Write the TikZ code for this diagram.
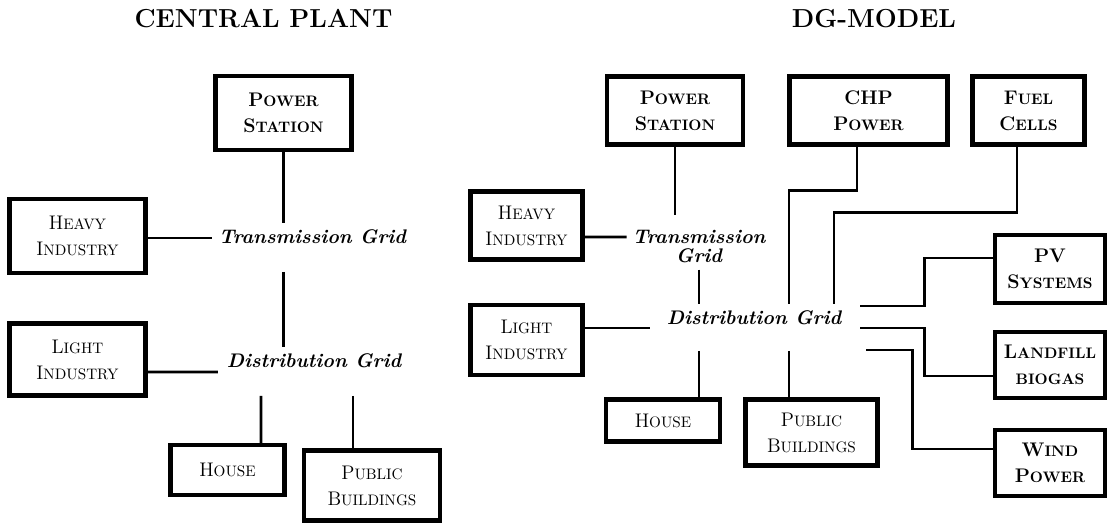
\documentclass[tikz,border=0pt]{standalone}
\usepackage{fontspec}
\usepackage{tikz}
\usetikzlibrary{calc}

\newcommand{\boxfont}{\fontsize{14}{18.5}\selectfont}
\newcommand{\gridfont}{\fontsize{14}{13.5}\selectfont\bfseries\itshape}
\newcommand{\lc}[1]{{\fontsize{10.8}{12}\selectfont\addfontfeature{LetterSpace=10}\MakeUppercase{#1}}}

\begin{document}
\begin{tikzpicture}[x=0.025cm, y=-0.025cm,
    consumer/.style={draw, line width=3.2pt, align=center, inner sep=1pt, font=\boxfont},
    source/.style={consumer, font=\boxfont\bfseries},
    gridlabel/.style={inner sep=4.7pt, align=center, font=\gridfont},
    heading/.style={font=\fontsize{18.5}{22}\selectfont\bfseries},
    wire/.style={line width=2.1pt}]

    \useasboundingbox (0,0) rectangle (1113,527);

    % central plant
    \node[heading] (ttl1) at (263.5,19) {CENTRAL PLANT};
    \node[source, minimum width=3.41cm, minimum height=1.84cm] (ps1) at (283.5,113) {P\lc{ower}\\S\lc{tation}};
    \node[consumer, minimum width=3.41cm, minimum height=1.84cm] (hi1) at (77.5,236) {H\lc{eavy}\\I\lc{ndustry}};
    \node[gridlabel] (tg1) at (312.5,237) {Transmission Grid};
    \node[consumer, minimum width=3.41cm, minimum height=1.81cm] (li1) at (77.5,359.5) {L\lc{ight}\\I\lc{ndustry}};
    \node[gridlabel] (dg1) at (314,361) {Distribution Grid};
    \node[consumer, minimum width=2.86cm, minimum height=1.24cm] (ho1) at (227.5,470) {H\lc{ouse}};
    \node[consumer, minimum width=3.39cm, minimum height=1.76cm] (pb1) at (372,485.5) {P\lc{ublic}\\B\lc{uildings}};

    \draw[wire] (ps1) -- (ps1 |- tg1.north);
    \draw[wire] ($(hi1.east)+(0,2)$) -- ($(tg1.west)+(0,1)$);
    \draw[wire, shorten <=0.52cm] (ps1 |- tg1.south) -- (ps1 |- dg1.north);
    \draw[wire] ($(li1.east)+(0,12.5)$) -- ($(dg1.west)+(-2,11)$);
    \draw[wire, shorten <=0.52cm] ($(dg1.south)+(-53,0)$) -- ($(ho1.north)+(33.5,0)$);
    \draw[wire, shorten <=0.52cm] ($(dg1.south)+(39,0)$) -- ($(pb1.north)+(-19,0)$);

    % distributed generation
    \node[heading] (ttl2) at (874,19) {DG-MODEL};
    \node[source, minimum width=3.39cm, minimum height=1.71cm] (ps2) at (675,110.5) {P\lc{ower}\\S\lc{tation}};
    \node[source, minimum width=3.96cm, minimum height=1.71cm] (chp) at (868.5,110.5) {CHP\\P\lc{ower}};
    \node[source, minimum width=2.81cm, minimum height=1.71cm] (fc) at (1028.5,110.5) {F\lc{uel}\\C\lc{ells}};
    \node[consumer, minimum width=2.81cm, minimum height=1.69cm] (hi2) at (526.5,225.5) {H\lc{eavy}\\I\lc{ndustry}};
    \node[gridlabel] (tg2) at (699,246.5) {Transmission\\Grid};
    \node[gridlabel] (dg2) at (754,318) {Distribution Grid};
    \node[consumer, minimum width=2.81cm, minimum height=1.74cm] (li2) at (526.5,340) {L\lc{ight}\\I\lc{ndustry}};
    \node[consumer, minimum width=2.84cm, minimum height=1.06cm] (ho2) at (663,420.5) {H\lc{ouse}};
    \node[consumer, minimum width=3.31cm, minimum height=1.66cm] (pb2) at (811.5,432.5) {P\lc{ublic}\\B\lc{uildings}};
    \node[source, minimum width=2.74cm, minimum height=1.69cm] (pv) at (1050,269) {PV\\S\lc{ystems}};
    \node[source, minimum width=2.74cm, minimum height=1.64cm] (lf) at (1050,365) {L\lc{andfill}\\\lc{biogas}};
    \node[source, minimum width=2.76cm, minimum height=1.64cm] (wp) at (1050,463) {W\lc{ind}\\P\lc{ower}};

    \coordinate (chpbus) at ($(dg2.north)+(35,0)$);
    \coordinate (fcbus) at ($(dg2.north)+(80,0)$);

    \draw[wire, shorten >=0.22cm] (ps2) -- (ps2 |- tg2.north);
    \draw[wire] ($(hi2.east)+(0,11.5)$) -- ($(tg2.west)+(1,-9.5)$);
    \draw[wire] (tg2.south) -- (tg2.south |- dg2.north);
    \draw[wire] ($(chp.south)+(-11.5,0)$) -- ++(0,44) -| (chpbus);
    \draw[wire] ($(fc.south)+(-11.5,0)$) -- ++(0,66) -| (fcbus);
    \draw[wire] ($(li2.east)+(0,-12)$) -- ($(dg2.west)+(-10,10)$);
    \draw[wire, shorten <=0.47cm] (tg2.south |- dg2.south) -- (tg2.south |- ho2.north);
    \draw[wire, shorten <=0.47cm] (chpbus |- dg2.south) -- (chpbus |- pb2.north);
    \draw[wire] ($(dg2.east)+(12,-12)$) -| ($(pv.west)+(-68,-11)$) -- ($(pv.west)+(0,-11)$);
    \draw[wire] ($(dg2.east)+(12,10)$) -| ($(lf.west)+(-68,11)$) -- ($(lf.west)+(0,11)$);
    \draw[wire] ($(dg2.east)+(18,32)$) -| ($(wp.west)+(-80,-14)$) -- ($(wp.west)+(0,-14)$);
\end{tikzpicture}
\end{document}
